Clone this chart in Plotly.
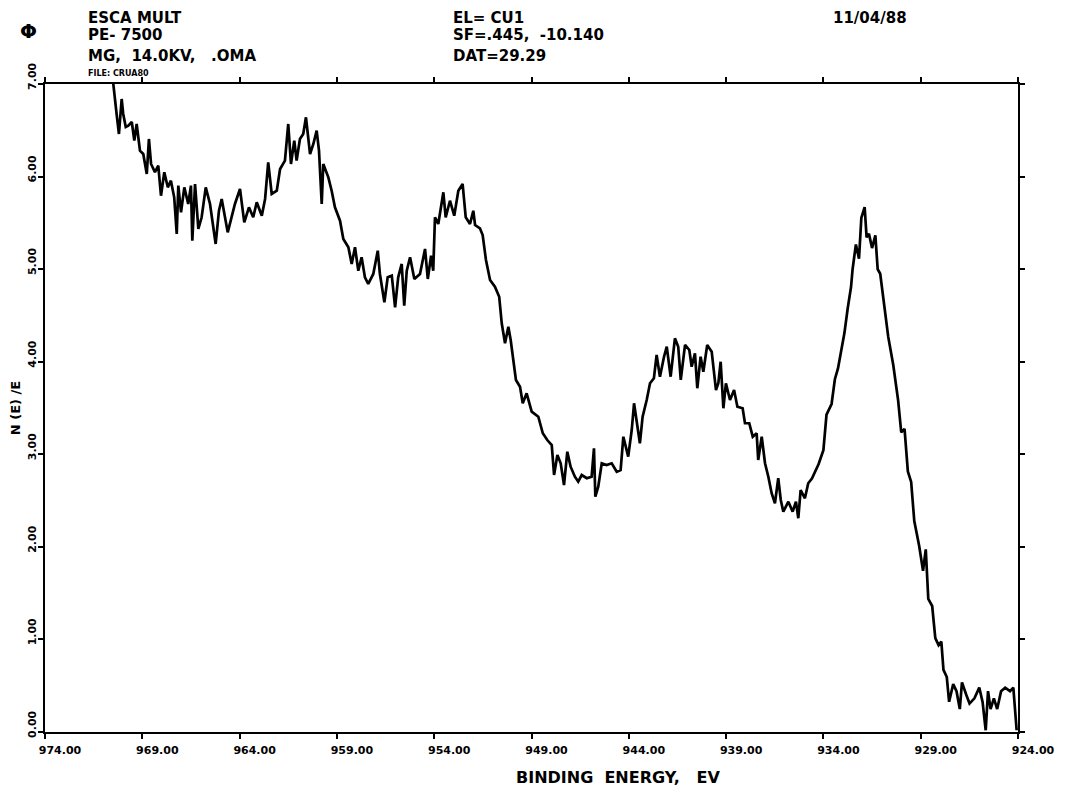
import plotly.graph_objects as go

# ---- data ----
binding_energy = [
    970.53, 970.49, 970.32, 970.20, 970.06, 969.98, 969.85, 969.72, 969.54, 969.41, 969.29,
    969.12, 968.95, 968.77, 968.66, 968.55, 968.35, 968.18, 968.04, 967.87, 967.69, 967.53,
    967.36, 967.23, 967.15, 967.01, 966.84, 966.64, 966.50, 966.43, 966.29, 966.12, 965.95,
    965.74, 965.52, 965.23, 965.06, 964.92, 964.61, 964.41, 964.24, 963.98, 963.76, 963.52,
    963.30, 963.12, 962.86, 962.69, 962.53, 962.35, 962.09, 961.92, 961.67, 961.50, 961.36,
    961.19, 961.07, 960.90, 960.73, 960.59, 960.38, 960.21, 960.04, 959.92, 959.78, 959.70,
    959.44, 959.27, 959.10, 958.84, 958.67, 958.41, 958.24, 958.07, 957.90, 957.73, 957.56,
    957.39, 957.13, 956.90, 956.79, 956.56, 956.39, 956.18, 956.01, 955.85, 955.67, 955.54,
    955.41, 955.24, 955.02, 954.73, 954.47, 954.33, 954.16, 954.05, 953.96, 953.79, 953.53,
    953.41, 953.19, 952.97, 952.76, 952.54, 952.38, 952.16, 951.99, 951.90, 951.65, 951.51,
    951.34, 951.13, 950.88, 950.66, 950.53, 950.36, 950.19, 950.07, 949.94, 949.80, 949.59,
    949.45, 949.25, 948.99, 948.65, 948.42, 948.19, 947.96, 947.84, 947.67, 947.50, 947.33,
    947.16, 946.99, 946.77, 946.60, 946.42, 946.16, 945.91, 945.79, 945.72, 945.57, 945.39,
    945.14, 944.88, 944.62, 944.42, 944.28, 944.03, 943.85, 943.73, 943.59, 943.43, 943.29,
    943.08, 942.91, 942.71, 942.57, 942.40, 942.19, 942.05, 941.85, 941.63, 941.46, 941.33,
    941.11, 940.89, 940.77, 940.60, 940.48, 940.31, 940.17, 939.97, 939.74, 939.52, 939.40,
    939.28, 939.14, 939.01, 938.80, 938.59, 938.42, 938.15, 938.03, 937.81, 937.63, 937.43,
    937.35, 937.17, 937.00, 936.83, 936.66, 936.49, 936.32, 936.19, 936.06, 935.80, 935.58,
    935.41, 935.29, 935.17, 934.95, 934.78, 934.59, 934.25, 934.00, 933.84, 933.58, 933.41,
    933.25, 933.08, 932.92, 932.75, 932.58, 932.50, 932.33, 932.17, 932.05, 931.88, 931.78,
    931.66, 931.50, 931.33, 931.21, 931.08, 930.91, 930.67, 930.41, 930.16, 930.00, 929.83,
    929.66, 929.49, 929.33, 929.08, 928.88, 928.74, 928.61, 928.41, 928.25, 928.08, 927.94,
    927.83, 927.66, 927.54, 927.33, 927.16, 926.99, 926.88, 926.66, 926.49, 926.24, 925.99,
    925.82, 925.66, 925.54, 925.41, 925.24, 925.07, 924.87, 924.66, 924.41, 924.24, 924.07,
]
intensity = [
    7.15, 7.00, 6.676, 6.460, 6.838, 6.676, 6.536, 6.550, 6.590, 6.388, 6.568,
    6.280, 6.244, 6.028, 6.406, 6.136, 6.049, 6.118, 5.793, 6.046, 5.884, 5.956,
    5.776, 5.380, 5.902, 5.614, 5.884, 5.704, 5.902, 5.307, 5.920, 5.434, 5.560,
    5.884, 5.704, 5.272, 5.631, 5.758, 5.398, 5.560, 5.704, 5.866, 5.506, 5.668,
    5.560, 5.722, 5.577, 5.758, 6.154, 5.812, 5.847, 6.082, 6.172, 6.568, 6.136,
    6.388, 6.172, 6.406, 6.460, 6.640, 6.244, 6.352, 6.496, 6.280, 5.704, 6.136,
    5.992, 5.847, 5.668, 5.523, 5.326, 5.236, 5.056, 5.236, 4.983, 5.128, 4.912,
    4.840, 4.948, 5.199, 4.948, 4.642, 4.912, 4.929, 4.588, 4.912, 5.056, 4.605,
    4.983, 5.128, 4.894, 4.948, 5.218, 4.894, 5.145, 4.983, 5.560, 5.488, 5.830,
    5.560, 5.739, 5.577, 5.847, 5.920, 5.560, 5.488, 5.631, 5.477, 5.441, 5.369,
    5.099, 4.883, 4.810, 4.702, 4.415, 4.199, 4.378, 4.235, 4.019, 3.803, 3.730,
    3.551, 3.659, 3.460, 3.406, 3.227, 3.154, 3.100, 2.776, 2.992, 2.903, 2.668,
    3.028, 2.866, 2.758, 2.704, 2.776, 2.741, 2.758, 3.065, 2.542, 2.650, 2.903,
    2.884, 2.903, 2.812, 2.830, 3.190, 2.974, 3.262, 3.551, 3.335, 3.119, 3.406,
    3.586, 3.767, 3.821, 4.073, 3.838, 4.054, 4.162, 3.838, 4.253, 4.162, 3.803,
    4.181, 4.127, 3.946, 4.091, 3.713, 4.054, 3.892, 4.181, 4.108, 3.694, 3.767,
    4.000, 3.497, 3.767, 3.586, 3.694, 3.514, 3.497, 3.335, 3.335, 3.190, 3.227,
    2.938, 3.190, 2.903, 2.758, 2.579, 2.471, 2.741, 2.506, 2.380, 2.488, 2.380,
    2.488, 2.309, 2.614, 2.525, 2.687, 2.738, 2.892, 3.045, 3.429, 3.543, 3.811,
    3.927, 4.118, 4.309, 4.578, 4.807, 4.999, 5.267, 5.114, 5.555, 5.669, 5.344,
    5.382, 5.228, 5.364, 4.999, 4.950, 4.654, 4.271, 3.965, 3.582, 3.236, 3.275,
    2.815, 2.701, 2.279, 2.011, 1.742, 1.973, 1.437, 1.361, 1.015, 0.939, 0.977,
    0.671, 0.594, 0.326, 0.517, 0.441, 0.248, 0.536, 0.402, 0.307, 0.364, 0.479,
    0.325, 0.019, 0.441, 0.248, 0.364, 0.248, 0.441, 0.479, 0.441, 0.479, 0.019,
]
x_ticks = [974, 969, 964, 959, 954, 949, 944, 939, 934, 929, 924]
x_tick_labels = ["974.00", "969.00", "964.00", "959.00", "954.00", "949.00",
                 "944.00", "939.00", "934.00", "929.00", "924.00"]
y_ticks = [0, 1, 2, 3, 4, 5, 6, 7]
y_tick_labels = ["0.00", "1.00", "2.00", "3.00", "4.00", "5.00", "6.00", "7.00"]

header_left = ["ESCA MULT", "PE- 7500", "MG,  14.0KV,   .OMA"]
header_mid = ["EL= CU1", "SF=.445,  -10.140", "DAT=29.29"]
header_date = "11/04/88"
file_label = "FILE: CRUA80"
x_title = "BINDING  ENERGY,   EV"
y_title = "N (E) /E"

# ---- layout geometry (page body has an 8px margin) ----
OFF = 8
W, H = 1067, 789
PL, PR, PT, PB = 45, 1018, 84, 732          # target plot box in window pixels
L, T = PL - OFF, PT - OFF
R = W - (PR - OFF)
B = H - (PB - OFF)
PW, PH = PR - PL, PB - PT


def px(xp):
    return (xp - PL) / PW


def py(yp):
    return (PB - yp) / PH


FONT = "DejaVu Sans"

fig = go.Figure()
fig.add_trace(go.Scatter(
    x=binding_energy, y=intensity, mode="lines",
    line=dict(color="black", width=2.7), hoverinfo="skip", showlegend=False,
))

axis_common = dict(
    showline=True, linecolor="black", linewidth=2, mirror="ticks",
    ticks="outside", ticklen=5, tickwidth=1.5, tickcolor="black",
    showgrid=False, zeroline=False,
    tickfont=dict(family=FONT, size=11, color="black", weight="bold"),
)

fig.update_layout(
    width=W, height=H,
    margin=dict(l=L, r=R, t=T, b=B, autoexpand=False),
    paper_bgcolor="white", plot_bgcolor="white",
    xaxis=dict(
        range=[974, 924], tickmode="array", tickvals=x_ticks, ticktext=x_tick_labels,
        ticklabelshift=-15, ticklabelstandoff=2,
        **axis_common,
    ),
    yaxis=dict(
        range=[0, 7], tickmode="array", tickvals=y_ticks, ticktext=y_tick_labels,
        tickangle=-90, ticklabelshift=-6, ticklabelstandoff=-2,
        title=dict(text=y_title,
                   font=dict(family=FONT, size=13, color="black", weight="bold"),
                   standoff=8),
        **axis_common,
    ),
)

ann = []
hfont = dict(family=FONT, size=15, color="black", weight="bold")
# first header line hugs the top edge of the page
ann.append(dict(x=px(87), y=py(OFF), yanchor="top", text=header_left[0], font=hfont))
ann.append(dict(x=px(452), y=py(OFF), yanchor="top", text=header_mid[0], font=hfont))
ann.append(dict(x=px(832), y=py(OFF), yanchor="top", text=header_date, font=hfont))
for i in (1, 2):
    ann.append(dict(x=px(87), y=py(14 + 21 * i), text=header_left[i], font=hfont))
    ann.append(dict(x=px(452), y=py(14 + 21 * i), text=header_mid[i], font=hfont))
ann.append(dict(x=px(87), y=py(73), text=file_label,
                font=dict(family=FONT, size=8, color="black", weight="bold")))
ann.append(dict(x=px(19), y=py(31), text="Φ",
                font=dict(family=FONT, size=20, color="black", weight="bold")))
# x-axis title, placed where the plotter put it (right of centre)
ann.append(dict(x=px(618), y=py(777), xanchor="center", text=x_title,
                font=dict(family=FONT, size=16, color="black", weight="bold")))
for a in ann:
    a.setdefault("xanchor", "left")
    a.setdefault("yanchor", "middle")
    a.update(xref="paper", yref="paper", showarrow=False, borderpad=0)
fig.update_layout(annotations=ann)

fig.write_html("out.html")
